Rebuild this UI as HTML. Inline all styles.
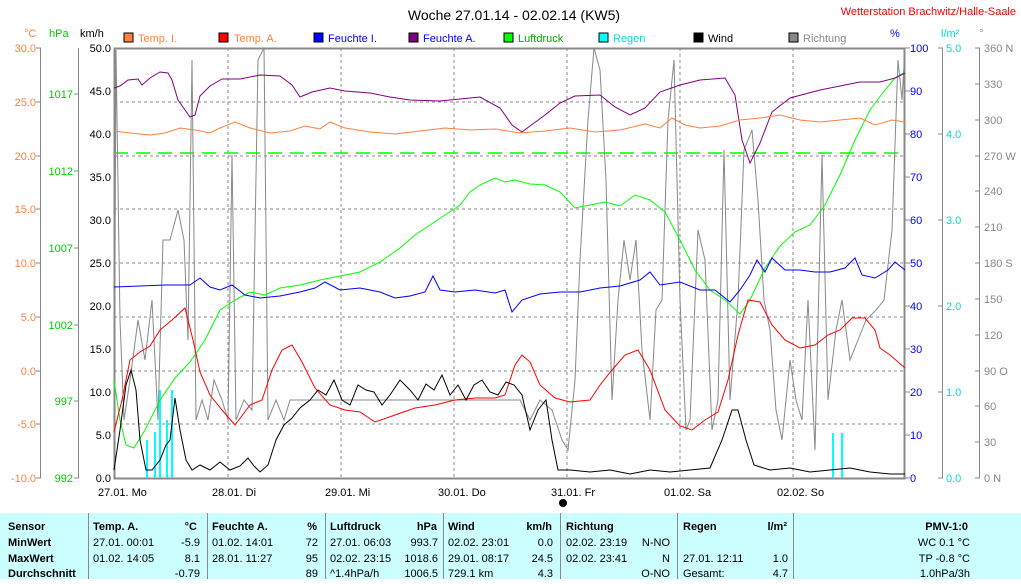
<!DOCTYPE html>
<html><head><meta charset="utf-8"><style>
body{margin:0;width:1021px;height:579px;background:#fff;overflow:hidden;font-family:"Liberation Sans",sans-serif}
svg text{font-family:"Liberation Sans",sans-serif;font-size:11px}
</style></head><body>
<svg width="1021" height="579" xmlns="http://www.w3.org/2000/svg">
<text x="514" y="20" text-anchor="middle" font-size="14" style="font-size:14px">Woche 27.01.14 - 02.02.14 (KW5)</text>
<text x="1016" y="15" text-anchor="end" fill="#f00">Wetterstation Brachwitz/Halle-Saale</text>
<!-- unit labels -->
<text x="24" y="37" fill="#ff8040">°C</text><text x="49" y="37" fill="#0c0">hPa</text><text x="80" y="37">km/h</text>
<text x="890" y="37" fill="#00f">%</text><text x="941" y="37" fill="#0dd">l/m²</text><text x="979" y="37" fill="#888">°</text>
<!-- legend -->
<g>
<rect x="124" y="33" width="9" height="9" fill="#ff8040" stroke="#000"/><text x="138" y="42" fill="#ff8040">Temp. I.</text>
<rect x="219" y="33" width="9" height="9" fill="#f00" stroke="#000"/><text x="234" y="42" fill="#ff8040">Temp. A.</text>
<rect x="314" y="33" width="9" height="9" fill="#00f" stroke="#000"/><text x="328" y="42" fill="#00f">Feuchte I.</text>
<rect x="409" y="33" width="9" height="9" fill="#800080" stroke="#000"/><text x="423" y="42" fill="#00f">Feuchte A.</text>
<rect x="504" y="33" width="9" height="9" fill="#0f0" stroke="#000"/><text x="518" y="42" fill="#0a0">Luftdruck</text>
<rect x="599" y="33" width="9" height="9" fill="#0ff" stroke="#000"/><text x="613" y="42" fill="#0dd">Regen</text>
<rect x="694" y="33" width="9" height="9" fill="#000" stroke="#000"/><text x="708" y="42">Wind</text>
<rect x="789" y="33" width="9" height="9" fill="#888" stroke="#000"/><text x="803" y="42" fill="#888">Richtung</text>
</g>
<!-- axes lines -->
<g stroke="#888" stroke-width="1">
<line x1="40.5" y1="48" x2="40.5" y2="478"/><line x1="78.5" y1="48" x2="78.5" y2="478"/>
<line x1="942.5" y1="48" x2="942.5" y2="478"/><line x1="979.5" y1="48" x2="979.5" y2="478"/>
</g>
<g stroke="#888">
<path d="M36 48h5M36 102h5M36 156h5M36 209h5M36 263h5M36 317h5M36 371h5M36 424h5M36 478h5"/>
<path d="M74 94h5M74 171h5M74 248h5M74 325h5M74 401h5M74 478h5"/>
<path d="M938 48h5M938 134h5M938 220h5M938 306h5M938 392h5M938 478h5"/>
<path d="M975 48h5M975 84h5M975 120h5M975 156h5M975 191h5M975 227h5M975 263h5M975 299h5M975 335h5M975 371h5M975 406h5M975 442h5M975 478h5"/>
<path d="M905 48h5M905 91h5M905 134h5M905 177h5M905 220h5M905 263h5M905 306h5M905 349h5M905 392h5M905 435h5M905 478h5"/>
</g>
<g fill="#ff8040" text-anchor="end">
<text x="36" y="52">30.0</text><text x="36" y="106">25.0</text><text x="36" y="160">20.0</text><text x="36" y="213">15.0</text><text x="36" y="267">10.0</text><text x="36" y="321">5.0</text><text x="36" y="375">0.0</text><text x="36" y="428">-5.0</text><text x="36" y="482">-10.0</text></g>
<g fill="#0c0" text-anchor="end">
<text x="73" y="98">1017</text><text x="73" y="175">1012</text><text x="73" y="252">1007</text><text x="73" y="329">1002</text><text x="73" y="405">997</text><text x="73" y="482">992</text></g>
<g text-anchor="end">
<text x="111" y="52">50.0</text><text x="111" y="95">45.0</text><text x="111" y="138">40.0</text><text x="111" y="181">35.0</text><text x="111" y="224">30.0</text><text x="111" y="267">25.0</text><text x="111" y="310">20.0</text><text x="111" y="353">15.0</text><text x="111" y="396">10.0</text><text x="111" y="439">5.0</text><text x="111" y="482">0.0</text></g>
<g fill="#00f"><text x="910" y="52">100</text><text x="910" y="95">90</text><text x="910" y="138">80</text><text x="910" y="181">70</text><text x="910" y="224">60</text><text x="910" y="267">50</text><text x="910" y="310">40</text><text x="910" y="353">30</text><text x="910" y="396">20</text><text x="910" y="439">10</text><text x="910" y="482">0</text></g>
<g fill="#0dd"><text x="946" y="52">5.0</text><text x="946" y="138">4.0</text><text x="946" y="224">3.0</text><text x="946" y="310">2.0</text><text x="946" y="396">1.0</text><text x="946" y="482">0.0</text></g>
<g fill="#888"><text x="984" y="52">360 N</text><text x="984" y="88">330</text><text x="984" y="124">300</text><text x="984" y="160">270 W</text><text x="984" y="195">240</text><text x="984" y="231">210</text><text x="984" y="267">180 S</text><text x="984" y="303">150</text><text x="984" y="339">120</text><text x="984" y="375">90 O</text><text x="984" y="410">60</text><text x="984" y="446">30</text><text x="984" y="482">0 N</text></g>
<!-- grid -->
<g stroke="#888" stroke-dasharray="3,3">
<path d="M114 102h791M114 156h791M114 209h791M114 263h791M114 317h791M114 371h791M114 424h791"/>
<path d="M228 48v430M341 48v430M454 48v430M567 48v430M680 48v430M793 48v430"/>
</g>
<rect x="114.5" y="48.5" width="790" height="430" fill="none" stroke="#888" stroke-width="2"/>
<!-- days -->
<g font-size="11"><text x="98" y="496">27.01.  Mo</text><text x="212" y="496">28.01.  Di</text><text x="325" y="496">29.01.  Mi</text><text x="438" y="496">30.01.  Do</text><text x="551" y="496">31.01.  Fr</text><text x="664" y="496">01.02.  Sa</text><text x="777" y="496">02.02.  So</text></g>
<circle cx="563" cy="503" r="4" fill="#000"/>
<line x1="114" y1="153" x2="905" y2="153" stroke="#0f0" stroke-width="1.5" stroke-dasharray="14,8"/>
<!-- rain -->
<g stroke="#0ff" stroke-width="2"><path d="M147 478V440M155 478V432M160 478V390M167 478V420M172 478V390M833 478V433M842 478V433"/></g>
<!-- direction -->
<polyline fill="none" stroke="#888" points="114,478 116,50 120,320 124,420 130,380 138,320 145,360 152,300 158,420 163,240 170,240 178,210 184,240 188,340 192,60 196,420 202,400 208,420 214,380 222,400 228,420 232,155 236,420 244,400 252,410 258,60 264,48 268,420 276,400 284,420 290,400 298,400 320,400 340,400 360,400 380,400 400,400 420,400 440,400 460,400 480,400 500,400 520,400 530,420 540,400 552,410 562,440 568,450 575,380 580,260 588,120 594,48 600,70 606,180 612,400 618,300 624,240 630,280 636,240 642,350 650,420 656,310 662,300 668,120 674,60 680,300 686,430 690,420 698,230 705,260 712,430 718,400 724,150 730,400 738,300 744,150 752,130 758,200 764,300 770,330 776,410 782,440 790,360 796,400 802,420 808,300 815,450 822,155 828,400 836,330 842,300 850,360 858,340 866,320 876,310 884,300 892,230 898,60 902,100 905,48"/>
<!-- pressure -->
<polyline fill="none" stroke="#0f0" points="114,380 120,420 126,445 134,448 145,430 160,400 175,378 190,362 205,340 220,310 235,300 250,292 265,295 280,288 300,285 320,280 340,276 360,272 380,262 400,248 415,235 430,225 445,215 460,205 470,192 480,185 495,178 505,182 515,180 530,184 545,185 560,192 575,208 590,205 605,202 620,206 635,195 650,200 665,212 680,240 695,270 710,290 725,300 740,314 750,300 765,268 780,246 795,232 810,225 825,205 840,175 855,140 870,110 885,90 895,78 905,72"/>
<!-- temp A -->
<polyline fill="none" stroke="#f00" points="114,432 122,400 130,360 140,352 150,346 160,330 172,320 185,308 193,340 200,372 210,395 222,410 235,425 250,405 262,400 272,370 282,350 292,345 302,362 315,388 330,405 345,410 360,412 375,422 395,415 415,408 435,405 455,400 475,398 495,398 505,395 515,365 522,355 530,362 540,385 555,398 570,402 590,400 600,385 612,370 625,355 638,350 650,370 665,410 680,426 692,430 705,420 718,412 728,380 738,335 748,300 760,302 772,325 785,340 800,348 815,345 828,335 840,330 852,318 865,318 875,330 880,348 890,355 905,368"/>
<!-- feuchte I -->
<polyline fill="none" stroke="#00f" points="114,287 140,286 165,285 190,285 200,278 210,287 220,290 232,285 245,295 260,298 280,296 300,292 315,288 325,282 340,290 360,288 380,292 395,298 410,296 425,292 433,276 440,290 455,292 475,290 495,293 505,290 512,312 522,300 540,294 560,292 580,292 600,288 620,286 640,280 650,272 660,285 680,282 700,290 715,290 730,302 740,290 750,275 757,260 765,272 772,258 785,270 800,270 815,272 830,272 845,268 855,258 862,275 875,278 888,270 895,262 905,270"/>
<!-- feuchte A -->
<polyline fill="none" stroke="#800080" points="114,88 120,86 128,80 138,79 142,85 150,78 160,72 168,73 172,80 178,100 185,110 190,117 195,115 200,96 210,86 222,79 240,79 260,75 280,76 292,85 300,97 312,92 330,88 345,91 370,93 390,97 410,100 440,101 460,99 480,97 500,108 512,125 522,132 530,126 545,115 560,103 575,96 600,95 615,107 630,115 645,108 660,92 680,85 700,80 725,78 735,95 742,140 750,163 760,143 772,112 790,98 820,90 840,86 860,82 880,82 895,78 905,73"/>
<!-- temp I -->
<polyline fill="none" stroke="#ff8040" points="114,131 130,133 150,135 165,133 180,128 195,130 210,133 220,128 235,122 250,128 270,133 290,131 305,126 320,129 330,122 345,128 370,132 395,134 420,131 445,128 470,130 495,129 520,133 545,131 570,128 595,132 620,130 645,124 660,128 672,118 685,125 700,128 720,126 740,120 760,118 780,115 800,120 820,122 840,120 860,118 875,125 892,120 905,122"/>
<!-- wind -->
<polyline fill="none" stroke="#000" points="114,470 120,430 126,385 131,370 136,390 140,440 146,470 152,470 160,460 166,445 170,440 175,398 180,430 186,460 192,470 200,465 210,470 220,462 230,470 240,466 248,458 254,466 260,472 268,465 276,440 284,425 292,418 300,408 310,400 318,390 326,395 334,380 342,400 350,405 358,385 366,390 374,392 382,405 390,395 400,380 410,390 418,400 426,384 434,390 442,375 450,395 458,385 466,400 474,385 482,380 490,392 498,395 506,382 514,385 522,395 530,430 538,410 546,400 552,440 558,470 570,470 590,472 610,470 630,474 650,470 670,472 690,470 710,468 722,440 732,410 738,410 746,440 754,465 770,470 790,468 810,472 830,470 850,468 870,472 890,474 905,474"/>
<!-- table -->
<rect x="0" y="513" width="1021" height="66" fill="#ccffff"/>
<g stroke="#888"><path d="M88.5 513v66M207.5 513v66M325.5 513v66M443.5 513v66M560.5 513v66M677.5 513v66M793.5 513v66"/></g>
<g font-size="11" style="font-size:11px">
<g font-weight="bold"><text x="8" y="530">Sensor</text><text x="8" y="546">MinWert</text><text x="8" y="562">MaxWert</text><text x="8" y="577">Durchschnitt</text>
<text x="93" y="530">Temp. A.</text><text x="197" y="530" text-anchor="end">°C</text>
<text x="212" y="530">Feuchte A.</text><text x="317" y="530" text-anchor="end">%</text>
<text x="330" y="530">Luftdruck</text><text x="437" y="530" text-anchor="end">hPa</text>
<text x="448" y="530">Wind</text><text x="552" y="530" text-anchor="end">km/h</text>
<text x="566" y="530">Richtung</text>
<text x="683" y="530">Regen</text><text x="787" y="530" text-anchor="end">l/m²</text>
<text x="968" y="530" text-anchor="end">PMV-1:0</text></g>
<text x="93" y="546">27.01.  00:01</text><text x="200" y="546" text-anchor="end">-5.9</text>
<text x="93" y="562">01.02.  14:05</text><text x="200" y="562" text-anchor="end">8.1</text>
<text x="200" y="577" text-anchor="end">-0.79</text>
<text x="212" y="546">01.02.  14:01</text><text x="318" y="546" text-anchor="end">72</text>
<text x="212" y="562">28.01.  11:27</text><text x="318" y="562" text-anchor="end">95</text>
<text x="318" y="577" text-anchor="end">89</text>
<text x="330" y="546">27.01.  06:03</text><text x="438" y="546" text-anchor="end">993.7</text>
<text x="330" y="562">02.02.  23:15</text><text x="438" y="562" text-anchor="end">1018.6</text>
<text x="330" y="577">^1.4hPa/h</text><text x="438" y="577" text-anchor="end">1006.5</text>
<text x="448" y="546">02.02.  23:01</text><text x="553" y="546" text-anchor="end">0.0</text>
<text x="448" y="562">29.01.  08:17</text><text x="553" y="562" text-anchor="end">24.5</text>
<text x="448" y="577">729.1 km</text><text x="553" y="577" text-anchor="end">4.3</text>
<text x="566" y="546">02.02.  23:19</text><text x="670" y="546" text-anchor="end">N-NO</text>
<text x="566" y="562">02.02.  23:41</text><text x="670" y="562" text-anchor="end">N</text>
<text x="670" y="577" text-anchor="end">O-NO</text>
<text x="683" y="562">27.01.  12:11</text><text x="788" y="562" text-anchor="end">1.0</text>
<text x="683" y="577">Gesamt:</text><text x="788" y="577" text-anchor="end">4.7</text>
<text x="970" y="546" text-anchor="end">WC 0.1 °C</text>
<text x="970" y="562" text-anchor="end">TP -0.8 °C</text>
<text x="970" y="577" text-anchor="end">1.0hPa/3h</text>
</g>
</svg>
</body></html>
